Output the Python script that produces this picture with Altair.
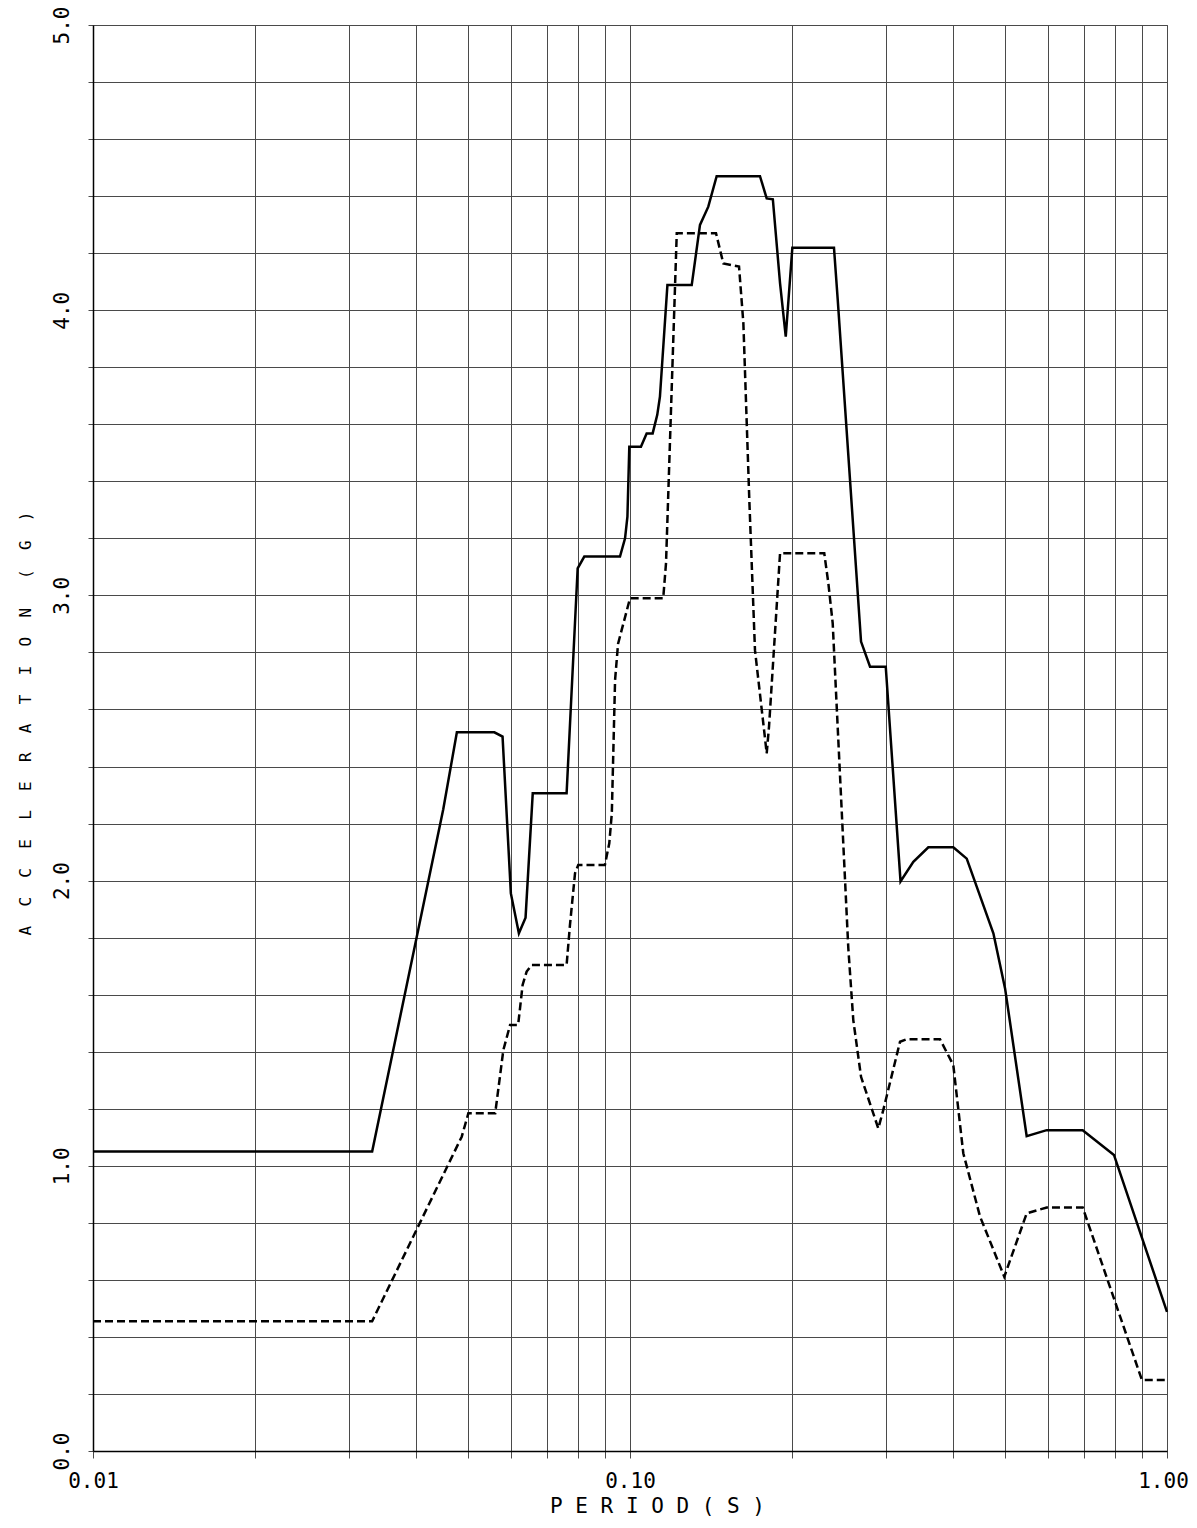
import altair as alt
import pandas as pd

# Solid curve (period s, acceleration g)
solid_T = [0.01, 0.0331, 0.0449, 0.0476, 0.0559, 0.0579, 0.0600, 0.0621, 0.0639, 0.0659,
           0.0762, 0.0799, 0.0822, 0.0958, 0.0979, 0.0989, 0.0997, 0.1048, 0.1074, 0.1102,
           0.1124, 0.1137, 0.1174, 0.1303, 0.1350, 0.1399, 0.1450, 0.1746, 0.1797, 0.1845,
           0.1903, 0.1950, 0.2006, 0.2398, 0.2437, 0.2693, 0.2799, 0.2994, 0.3190, 0.337,
           0.3594, 0.40, 0.4237, 0.4750, 0.4994, 0.5479, 0.597, 0.6966, 0.7966, 1.0]
solid_A = [1.05, 1.05, 2.25, 2.52, 2.52, 2.505, 1.955, 1.815, 1.87, 2.306,
           2.306, 3.095, 3.136, 3.136, 3.2, 3.276, 3.521, 3.521, 3.568, 3.568,
           3.633, 3.697, 4.088, 4.088, 4.299, 4.363, 4.47, 4.47, 4.392, 4.389,
           4.094, 3.907, 4.219, 4.219, 4.036, 2.838, 2.75, 2.75, 1.997, 2.066,
           2.117, 2.117, 2.077, 1.815, 1.622, 1.104, 1.125, 1.125, 1.038, 0.488]

# Dashed curve
dash_T = [0.01, 0.0331, 0.0486, 0.05, 0.0561, 0.0581, 0.0598, 0.0619, 0.0631, 0.0642,
          0.0656, 0.0762, 0.0773, 0.0790, 0.0801, 0.0898, 0.0915, 0.0925, 0.0938, 0.0950,
          0.1, 0.1153, 0.1167, 0.1222, 0.1446, 0.1492, 0.1596, 0.1626, 0.1668, 0.1709,
          0.1784, 0.1797, 0.1815, 0.1903, 0.2300, 0.2341, 0.2385, 0.2550, 0.2605, 0.2693,
          0.2900, 0.2963, 0.3183, 0.3276, 0.3778, 0.40, 0.4175, 0.4486, 0.4977, 0.5479,
          0.597, 0.6966, 0.898, 1.0]
dash_A = [0.455, 0.455, 1.102, 1.184, 1.184, 1.406, 1.494, 1.494, 1.634, 1.681,
          1.704, 1.704, 1.844, 2.026, 2.055, 2.055, 2.131, 2.236, 2.703, 2.83,
          2.99, 2.99, 3.113, 4.27, 4.27, 4.164, 4.153, 3.954, 3.334, 2.808,
          2.499, 2.446, 2.54, 3.148, 3.148, 3.042, 2.902, 1.763, 1.511, 1.312,
          1.131, 1.196, 1.435, 1.444, 1.444, 1.353, 1.044, 0.822, 0.611, 0.833,
          0.854, 0.854, 0.249, 0.249]

x_ticks = [round(k * 10.0 ** e, 4) for e in (-2, -1) for k in range(1, 10)] + [1.0]
y_ticks = [round(i * 0.1, 1) for i in range(51)]

NB = "\u00a0"
y_title = (NB * 2).join(list("ACCELERATION")) + NB * 3 + "(" + NB * 2 + "G" + NB * 2 + ")"
x_title = NB.join(list("PERIOD")) + NB + "(" + NB + "S" + NB + ")"

solid_df = pd.DataFrame({"T": solid_T, "A": solid_A, "i": range(len(solid_T))})
dash_df = pd.DataFrame({"T": dash_T, "A": dash_A, "i": range(len(dash_T))})

FONT = "DejaVu Sans Mono"

x_enc = alt.X(
    "T:Q",
    scale=alt.Scale(type="log", domain=[0.01, 1.0], nice=False),
    axis=alt.Axis(
        values=x_ticks,
        labelExpr="abs(log(datum.value)/LN10 - round(log(datum.value)/LN10)) < 0.000001 ? format(datum.value, '.2f') : ''",
        title=x_title,
        titleX=564, titleY=55, titleAlign="center", titleBaseline="middle",
        titleFont=FONT, titleFontSize=21, titleFontWeight="normal", titleColor="black",
        labelFont=FONT, labelFontSize=21, labelColor="black",
        labelBaseline="middle", labelPadding=23, tickSize=7,
        labelOffset={"condition": {"test": "datum.value > 0.99", "value": -4}, "value": 0},
        labelBound=False, labelOverlap=False, labelFlush=False,
        grid=True, gridColor="#4a4a4a", gridWidth=1, gridOpacity=1,
        tickColor="#4a4a4a", tickWidth=1,
        domainColor="black", domainWidth=1.5,
    ),
)
y_enc = alt.Y(
    "A:Q",
    scale=alt.Scale(domain=[0, 5], nice=False, zero=True),
    axis=alt.Axis(
        values=y_ticks,
        labelExpr="abs(datum.value*2 - round(datum.value*2)) < 0.000001 ? format(datum.value, '.1f') : ''",
        title=y_title,
        titleAngle=270, titleX=-68, titleY=698, titleAlign="center", titleBaseline="middle",
        titleFont=FONT, titleFontSize=16, titleFontWeight="normal", titleColor="black",
        labelFont=FONT, labelFontSize=21, labelColor="black",
        labelAngle=270, labelAlign="center", labelBaseline="bottom", labelPadding=16,
        tickSize=5, labelBound=False, labelOverlap=False, labelFlush=False,
        grid=True, gridColor="#4a4a4a", gridWidth=1, gridOpacity=1,
        tickColor="#4a4a4a", tickWidth=1,
        domainColor="black", domainWidth=1.5,
    ),
)

solid = alt.Chart(solid_df).mark_line(color="black", strokeWidth=2.5).encode(
    x=x_enc, y=y_enc, order="i:Q"
)
dashed = alt.Chart(dash_df).mark_line(color="black", strokeWidth=2.5, strokeDash=[8, 4]).encode(
    x="T:Q", y="A:Q", order="i:Q"
)

chart = (
    alt.layer(solid, dashed)
    .properties(
        width=1074,
        height=1426,
        autosize=alt.AutoSizeParams(type="none"),
        padding={"left": 85, "top": 17, "right": 22, "bottom": 67},
        background="white",
    )
    .configure_view(stroke="#4a4a4a", strokeWidth=1)
)

chart.save("out.html", embed_options={"renderer": "svg", "actions": False})
